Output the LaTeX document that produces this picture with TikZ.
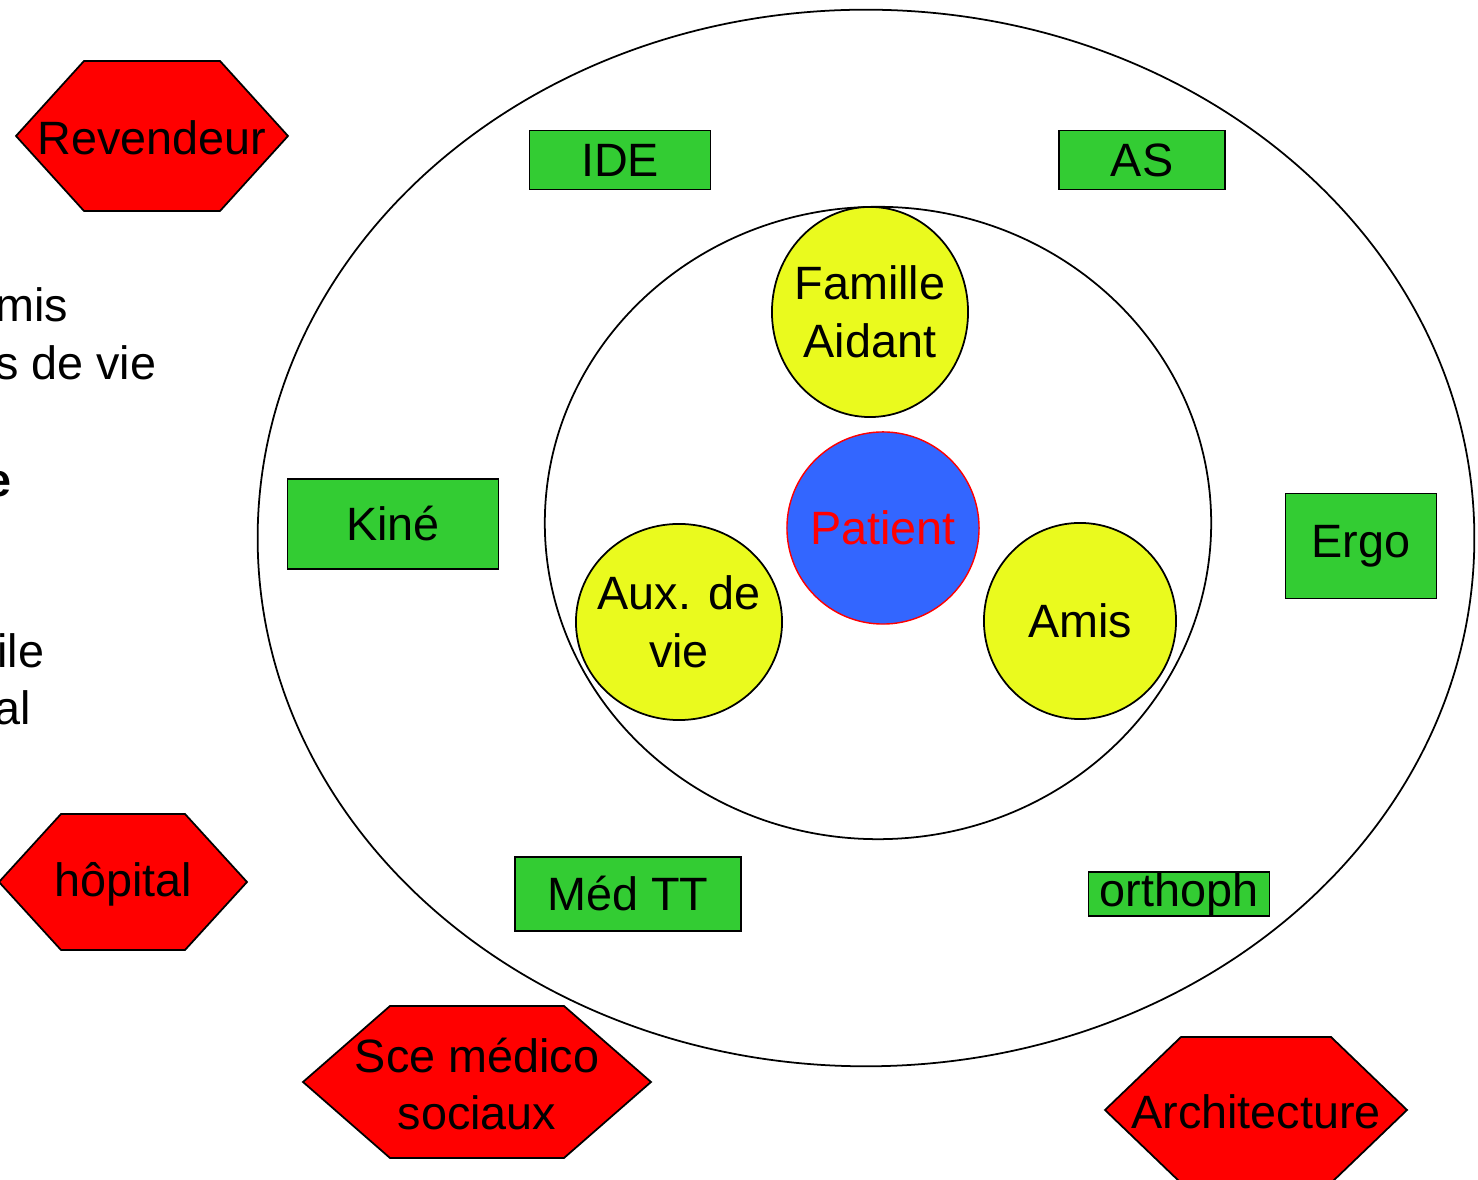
\documentclass[tikz,border=0pt]{standalone}
\usepackage{fontspec}
\setmainfont{Liberation Sans}
\usetikzlibrary{shapes.geometric}
\definecolor{vert}{RGB}{51,204,51}
\definecolor{jaune}{RGB}{234,250,30}
\definecolor{bleu}{RGB}{51,102,255}
\definecolor{rouge}{RGB}{255,0,0}
\newcommand{\zb}[1]{\makebox[0pt]{#1}}
\begin{document}
\begin{tikzpicture}[x=0.01cm,y=-0.01cm,
  texte/.style={font=\fontsize{13.3pt}{16.4pt}\selectfont,align=center,inner sep=0pt},
  metier/.style={texte,draw=black,fill=vert,line width=0.5pt,minimum width=#1},
  rond/.style={texte,ellipse,draw=black,fill=jaune,line width=0.5pt},
  hexa/.style={draw=black,fill=rouge,line width=0.5pt}]
\useasboundingbox (0,0) rectangle (1478,1180);

%cercles
\node[ellipse,draw,line width=0.5pt,minimum width=12.16cm,minimum height=10.56cm] (ext) at (866,538) {};
\node[ellipse,draw,line width=0.5pt,minimum width=6.66cm,minimum height=6.32cm] (int) at (878,523) {};

%patient et proches
\node[texte,circle,draw=rouge,fill=bleu,text=rouge,minimum size=1.92cm] (patient) at (883,528) {\zb{Patient}};
\node[rond,minimum width=1.96cm,minimum height=2.1cm] (famille) at (870,312) {\zb{Famille}\\\zb{Aidant}};
\node[rond,minimum width=2.06cm,minimum height=1.96cm] (aux) at (679,622) {\zb{Aux. de}\\\zb{vie}};
\node[rond,minimum width=1.92cm,minimum height=1.96cm] (amis) at (1080,621) {\zb{Amis}};

%soignants
\node[metier=1.81cm,minimum height=0.59cm] (ide) at (620,160) {IDE};
\node[metier=1.66cm,minimum height=0.59cm] (as) at (1142,160) {AS};
\node[metier=2.11cm,minimum height=0.9cm] (kine) at (393,524) {Kiné};
\node[metier=1.51cm,minimum height=1.05cm] (ergo) at (1361,546) {Ergo};
\node[metier=2.26cm,minimum height=0.74cm] (med) at (628,894) {Méd TT};
\node[metier=1.81cm,minimum height=0.44cm] (ortho) at (1179,894) {orthoph};

%hexagones
\foreach \nom/\cx/\cy/\hw/\hh/\dx/\txt in {rev/152/136/136/75/68/Revendeur,
    hop/123/882/124/68/62/hôpital,
    sce/477/1082/174/76/87/{Sce médico\\sociaux},
    archi/1256/1110/151/73/76/Architecture}{
  \filldraw[hexa] ({\cx-\hw},\cy) -- ({\cx-\hw+\dx},{\cy-\hh}) -- ({\cx+\hw-\dx},{\cy-\hh})
    -- ({\cx+\hw},\cy) -- ({\cx+\hw-\dx},{\cy+\hh}) -- ({\cx-\hw+\dx},{\cy+\hh}) -- cycle;
  \node[texte] (\nom) at (\cx,{\cy+2}) {\txt};
}

%texte coupe a gauche
\node[texte,anchor=base east] (t1) at (69,322) {mis};
\node[texte,anchor=base east] (t2) at (157,380) {s de vie};
\node[texte,anchor=base east,font=\fontsize{13.3pt}{16.4pt}\selectfont\bfseries] (t3) at (12,497) {e};
\node[texte,anchor=base east] (t4) at (45,668) {ile};
\node[texte,anchor=base east] (t5) at (32,725) {al};
\end{tikzpicture}
\end{document}
